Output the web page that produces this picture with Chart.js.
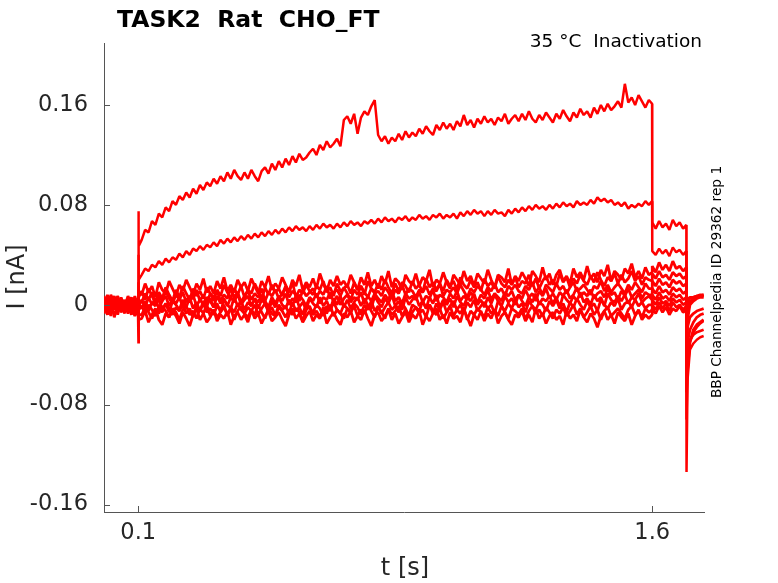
<!DOCTYPE html>
<html lang="en">
<head>
    <meta charset="UTF-8">
    <title>TASK2 Rat CHO_FT</title>
    <script src="https://cdn.jsdelivr.net/npm/chart.js"></script>
    <style>
        body {
            margin: 0;
            padding: 0;
            background: #fff;
        }
        #wrap {
            width: 778px;
            height: 583px;
            position: relative;
        }
    </style>
</head>
<body>
    <div id="wrap">
        <canvas id="traces"></canvas>
    </div>

    <script>
        // sample times [s]
        const timeS = [
            0, 0.01, 0.02, 0.03, 0.04, 0.05, 0.06, 0.07, 0.08, 0.09, 0.0995,
            0.1, 0.102,
            0.11, 0.12, 0.13, 0.14, 0.15, 0.16, 0.17, 0.18, 0.19, 0.20,
            0.21, 0.22, 0.23, 0.24, 0.25, 0.26, 0.27, 0.28, 0.29, 0.30,
            0.31, 0.32, 0.33, 0.34, 0.35, 0.36, 0.37, 0.38, 0.39, 0.40,
            0.41, 0.42, 0.43, 0.44, 0.45, 0.46, 0.47, 0.48, 0.49, 0.50,
            0.51, 0.52, 0.53, 0.54, 0.55, 0.56, 0.57, 0.58, 0.59, 0.60,
            0.61, 0.62, 0.63, 0.64, 0.65, 0.66, 0.67, 0.68, 0.69, 0.70,
            0.71, 0.72, 0.73, 0.74, 0.75, 0.76, 0.77, 0.78, 0.79, 0.80,
            0.81, 0.82, 0.83, 0.84, 0.85, 0.86, 0.87, 0.88, 0.89, 0.90,
            0.91, 0.92, 0.93, 0.94, 0.95, 0.96, 0.97, 0.98, 0.99, 1.00,
            1.01, 1.02, 1.03, 1.04, 1.05, 1.06, 1.07, 1.08, 1.09, 1.10,
            1.11, 1.12, 1.13, 1.14, 1.15, 1.16, 1.17, 1.18, 1.19, 1.20,
            1.21, 1.22, 1.23, 1.24, 1.25, 1.26, 1.27, 1.28, 1.29, 1.30,
            1.31, 1.32, 1.33, 1.34, 1.35, 1.36, 1.37, 1.38, 1.39, 1.40,
            1.41, 1.42, 1.43, 1.44, 1.45, 1.46, 1.47, 1.48, 1.49, 1.50,
            1.51, 1.52, 1.53, 1.54, 1.55, 1.56, 1.57, 1.58, 1.59,
            1.5995,
            1.6, 1.61, 1.62, 1.63, 1.64, 1.65, 1.66, 1.67, 1.68, 1.69, 1.6995,
            1.70, 1.703, 1.71, 1.72, 1.73, 1.74, 1.75
        ];

        // currents [pA], one array per sweep
        const sweepA = [
            4, -5, 6, -3, 7, -6, 2, -4, 5, -2, 1,
            75, 47,
            52, 60, 58, 67, 64, 73, 70, 78, 75, 83,
            80, 87, 84, 90, 86, 93, 89, 96, 92, 98,
            95, 101, 97, 103, 99, 106, 101, 108, 103, 100,
            106, 101, 108, 103, 99, 107, 110, 105, 113, 108,
            115, 110, 117, 112, 119, 114, 121, 116, 118, 122,
            125, 120, 128, 124, 131, 126, 129, 133, 127, 148,
            151, 145, 153, 137, 150, 155, 152, 159, 164, 136,
            131, 135, 129, 134, 131, 137, 132, 139, 134, 138,
            135, 141, 137, 143, 139, 136, 144, 140, 146, 141,
            145, 140, 147, 143, 152, 144, 148, 142, 149, 145,
            151, 146, 149, 144, 150, 147, 153, 145, 149, 152,
            147, 153, 148, 155, 149, 146, 152, 148, 154, 150,
            146, 153, 149, 156, 151, 147, 154, 150, 157, 152,
            155, 150, 158, 153, 160, 155, 161, 156, 159, 163,
            158, 177, 162, 166, 160, 168, 163, 158, 164,
            161,
            66, 61, 67, 62, 65, 60, 68, 63, 66, 61, 64,
            -134, -60, -36, -31, -28, -26, -25
        ];
        const sweepB = [
            -5, 3, -2, 6, -4, 1, -7, 4, -1, 5, 2,
            40, 20,
            24, 29, 27, 32, 30, 35, 32, 37, 34, 38,
            36, 41, 38, 43, 40, 45, 43, 47, 44, 48,
            46, 50, 47, 52, 49, 53, 50, 54, 51, 55,
            52, 56, 53, 57, 54, 58, 55, 59, 56, 60,
            57, 61, 58, 62, 59, 63, 60, 62, 59, 63,
            60, 64, 61, 65, 62, 64, 61, 65, 62, 66,
            63, 67, 64, 66, 63, 67, 65, 68, 65, 69,
            66, 70, 67, 69, 66, 70, 68, 71, 67, 70,
            68, 72, 69, 71, 68, 72, 70, 73, 69, 72,
            70, 73, 69, 74, 71, 75, 72, 76, 73, 75,
            71, 75, 72, 76, 73, 74, 71, 76, 73, 77,
            74, 78, 75, 79, 76, 80, 77, 79, 76, 80,
            77, 81, 78, 82, 79, 81, 78, 83, 80, 82,
            80, 84, 81, 86, 83, 85, 82, 84, 80, 82,
            79, 82, 77, 80, 78, 81, 79, 83, 80,
            83,
            43, 40, 45, 41, 44, 39, 46, 42, 44, 40, 43,
            -92, -48, -30, -22, -18, -15, -13
        ];
        const sweepC1 = [
            6, -1, 8, 2, -4, 5, -2, 7, 0, 4, 3,
            18, 10,
            8, 17, 10, 15, 6, 18, 12, 9, 19, 13,
            7, 16, 11, 20, 14, 8, 17, 12, 21, 10,
            15, 9, 19, 13, 22, 11, 16, 10, 20, 14,
            18, 11, 21, 15, 9, 19, 14, 23, 12, 17,
            13, 22, 16, 10, 20, 15, 24, 12, 18, 14,
            21, 13, 25, 17, 11, 20, 15, 23, 16, 19,
            14, 24, 18, 12, 22, 16, 26, 15, 20, 13,
            23, 17, 27, 14, 21, 18, 12, 24, 19, 16,
            25, 15, 22, 19, 28, 14, 20, 17, 26, 18,
            13, 24, 20, 16, 27, 19, 23, 15, 25, 21,
            17, 28, 20, 14, 24, 22, 18, 29, 16, 23,
            19, 26, 21, 15, 27, 23, 18, 30, 20, 25,
            16, 24, 28, 19, 23, 17, 29, 22, 26, 20,
            31, 21, 25, 18, 28, 23, 32, 19, 27, 24,
            20, 29, 25, 33, 22, 27, 21, 30, 24,
            26,
            31, 26, 34, 28, 32, 27, 35, 29, 31, 27, 30,
            -40, 2, 5, 6, 7, 8, 8
        ];
        const sweepC2 = [
            -3, 5, -6, 4, 1, -5, 3, -2, 6, -4, 0,
            12, 6,
            11, 4, 13, 7, 2, 10, 5, 14, 8, 3,
            12, 6, 15, 9, 4, 13, 7, 11, 5, 14,
            9, 3, 12, 7, 16, 10, 5, 13, 8, 15,
            6, 12, 9, 17, 11, 4, 14, 8, 16, 10,
            13, 7, 15, 10, 18, 6, 12, 9, 16, 11,
            8, 15, 12, 19, 10, 14, 7, 17, 11, 13,
            16, 9, 18, 12, 15, 8, 19, 13, 10, 17,
            12, 20, 14, 9, 17, 11, 18, 15, 10, 19,
            13, 16, 10, 21, 14, 18, 12, 17, 11, 20,
            15, 19, 12, 22, 16, 13, 20, 14, 18, 11,
            21, 15, 18, 13, 23, 17, 14, 20, 16, 22,
            14, 19, 17, 24, 15, 21, 13, 19, 23, 16,
            20, 15, 25, 18, 22, 14, 21, 17, 24, 19,
            16, 23, 18, 26, 20, 15, 22, 19, 25, 17,
            24, 18, 21, 27, 19, 23, 16, 22, 20,
            19,
            25, 21, 27, 22, 24, 20, 26, 23, 25, 21, 23,
            -30, -4, 2, 5, 6, 7, 8
        ];
        const sweepC3 = [
            7, -8, 3, -4, 7, -2, 4, -6, 1, -3, 5,
            8, 3,
            2, 9, 4, 10, 0, 7, 3, 11, 5, 1,
            8, 4, 10, 2, 7, 5, 12, 3, 8, 1,
            9, 6, 11, 3, 8, 5, 13, 6, 10, 2,
            7, 11, 4, 9, 6, 13, 3, 10, 7, 12,
            5, 9, 14, 6, 11, 8, 3, 12, 7, 10,
            13, 6, 11, 8, 15, 5, 10, 12, 7, 14,
            9, 4, 12, 8, 15, 10, 6, 13, 9, 11,
            7, 14, 10, 5, 12, 9, 16, 8, 13, 11,
            6, 12, 10, 15, 8, 13, 11, 17, 7, 12,
            10, 14, 9, 16, 11, 6, 13, 10, 15, 12,
            8, 14, 11, 17, 10, 13, 7, 15, 12, 16,
            11, 9, 15, 12, 18, 10, 14, 8, 16, 13,
            10, 17, 12, 15, 9, 14, 18, 11, 13, 16,
            12, 8, 15, 13, 19, 11, 16, 10, 14, 17,
            13, 9, 16, 12, 18, 14, 10, 17, 13,
            13,
            19, 15, 21, 16, 18, 14, 20, 17, 19, 15, 17,
            -45, -30, -20, -14, -10, -8, -7
        ];
        const sweepC4 = [
            -1, 8, -5, 6, -8, 4, 0, 5, -3, 7, -2,
            4, -2,
            4, -2, 6, 0, 5, -3, 3, 7, -1, 4,
            1, 6, -2, 5, 2, 8, -1, 4, 0, 6,
            3, -2, 7, 1, 5, -1, 6, 2, 9, 0,
            4, 7, -1, 5, 2, 8, 3, -2, 6, 1,
            7, 3, 9, 0, 5, 2, 8, 4, -1, 6,
            3, 9, 1, 6, 4, 10, 2, 7, 0, 5,
            8, 2, 6, 4, 10, 1, 7, 3, 9, 5,
            2, 8, 4, 11, 3, 6, 1, 9, 5, 7,
            4, 10, 2, 7, 5, 12, 3, 8, 6, 2,
            9, 5, 11, 3, 7, 4, 10, 6, 2, 8,
            5, 12, 4, 9, 6, 3, 10, 7, 11, 4,
            8, 5, 12, 6, 9, 3, 11, 7, 13, 5,
            9, 4, 10, 7, 12, 5, 8, 14, 6, 10,
            7, 12, 5, 9, 11, 6, 13, 8, 10, 4,
            11, 7, 13, 6, 9, 12, 5, 10, 8,
            8,
            13, 9, 15, 10, 12, 8, 14, 11, 13, 9, 11,
            -25, 4, 6, 6, 7, 7, 7
        ];
        const sweepC5 = [
            -7, 2, -9, 4, -3, 6, -5, 1, -8, 3, -2,
            -4, 1,
            -3, 3, -5, 2, -1, 5, -4, 1, -6, 3,
            0, -4, 4, -2, 6, -3, 2, -5, 3, -1,
            5, -2, 1, -6, 4, 0, -3, 6, -1, 3,
            -4, 2, -1, 5, -3, 4, 1, -5, 3, -2,
            6, 0, -3, 4, -1, 7, -2, 2, -4, 5,
            1, -2, 6, -1, 3, -4, 5, 0, 7, -2,
            4, -3, 2, 6, -1, 5, 0, -3, 7, 2,
            -2, 5, 1, 8, -1, 3, -4, 6, 0, 4,
            7, -1, 3, -3, 6, 1, 8, -2, 4, 0,
            5, -2, 7, 2, -1, 6, 3, 9, 0, 4,
            -2, 6, 1, 8, 3, -1, 7, 2, 5, 0,
            8, 3, -1, 6, 2, 9, 0, 5, 3, 7,
            1, 6, -2, 8, 4, 1, 7, 3, 10, 2,
            5, 0, 8, 3, 6, -1, 9, 4, 2, 7,
            3, 8, 1, 6, 4, 9, 2, 5, 7,
            4,
            8, 4, 10, 5, 7, 3, 9, 6, 8, 4, 6,
            -70, -52, -30, -20, -16, -14, -12
        ];
        const sweepC6 = [
            4, -6, 1, 7, -5, 2, -3, 5, -1, -4, 0,
            -10, -4,
            -1, -7, 0, -4, -9, -2, -6, 1, -3, -8,
            -2, -5, 0, -7, -3, -10, -1, -5, 1, -6,
            -3, -8, -1, -4, 0, -9, -2, -6, 1, -4,
            -7, -2, -5, 0, -8, -3, 1, -6, -2, -9,
            0, -4, -1, -7, 2, -5, -2, -8, 1, -3,
            -6, 0, -3, -9, -1, -5, 2, -4, -7, 0,
            -3, -6, 1, -2, -8, 0, -4, 3, -5, -1,
            -7, -2, 2, -4, -1, -6, 1, -3, -9, 0,
            -2, -5, 3, -3, 0, -7, 1, -4, 2, -6,
            -1, 3, -4, 0, -6, 2, -2, 4, -5, -1,
            2, -3, 0, -7, 3, -1, -5, 1, -3, 4,
            -2, 1, -6, 3, -1, -4, 2, 0, -5, 3,
            -1, 4, -3, 1, -6, 2, -2, 5, 0, -4,
            3, -2, 1, -5, 4, 0, -3, 2, -1, 5,
            -4, 1, 3, -2, 4, -1, 2, -3, 0,
            0,
            4, 0, 6, 1, 3, -1, 5, 2, 4, 0, 2,
            -50, -40, -28, -24, -22, -21, -20
        ];
        const sweepC7 = [
            -4, 3, -7, 1, 5, -6, 2, -3, 4, -8, -1,
            -18, -8,
            -8, -2, -6, -11, -4, -7, -1, -5, -10, -3,
            -6, -12, -4, -1, -8, -5, -11, -3, -7, 0,
            -9, -4, -10, -6, -2, -8, -3, -12, -5, -1,
            -7, -10, -4, -8, 0, -6, -11, -3, -7, -9,
            -2, -5, -10, -4, -8, -3, -6, -13, -4, -1,
            -8, -5, -10, -2, -7, 0, -9, -4, -7, -11,
            -3, -6, -1, -9, -4, -7, 0, -5, -10, -2,
            -6, -11, -3, -8, -5, -1, -9, -4, -12, -6,
            -2, -7, -4, -10, 0, -5, -8, -3, -11, -6,
            -1, -9, -4, -7, -2, -12, -5, -8, -3, -6,
            -10, -2, -7, -4, -9, -1, -6, -11, -3, -5,
            -8, -3, -12, -5, -1, -7, -4, -9, -2, -6,
            -11, -4, -7, -2, -9, -5, 0, -8, -3, -10,
            -6, -1, -8, -4, -12, -5, -2, -9, -6, -3,
            -7, -11, -4, -1, -8, -5, -10, -3, -6,
            -4,
            0, -4, 2, -3, 1, -5, 2, -2, 0, -4, -1,
            -35, -12, 0, 3, 5, 6, 6
        ];
        const sweepC8 = [
            2, -8, 5, -10, 0, -4, 3, -7, -1, -9, -3,
            -31, -12,
            -11, -5, -14, -8, -3, -12, -16, -7, -10, -4,
            -9, -15, -6, -11, -17, -8, -3, -12, -7, -14,
            -10, -4, -13, -8, -11, -5, -16, -9, -6, -12,
            -8, -14, -4, -11, -7, -15, -9, -5, -13, -10,
            -6, -12, -17, -8, -3, -11, -7, -14, -9, -5,
            -13, -8, -11, -4, -15, -10, -6, -12, -16, -7,
            -10, -5, -14, -9, -12, -4, -11, -17, -8, -6,
            -13, -9, -4, -12, -7, -15, -10, -6, -14, -8,
            -11, -5, -16, -9, -13, -7, -3, -12, -8, -15,
            -6, -11, -9, -14, -4, -10, -17, -8, -12, -5,
            -13, -7, -11, -4, -15, -9, -6, -12, -16, -8,
            -10, -5, -13, -8, -14, -3, -11, -7, -15, -9,
            -6, -12, -9, -16, -5, -11, -8, -13, -4, -10,
            -14, -7, -11, -18, -9, -5, -12, -8, -15, -6,
            -10, -13, -7, -16, -9, -4, -12, -8, -11,
            -8,
            -3, -7, -1, -6, -2, -8, -3, -5, -1, -6, -4,
            -28, -18, -10, -7, -5, -4, -3
        ];

        const sweeps = [sweepC8, sweepC7, sweepC6, sweepC5, sweepC4, sweepC3, sweepC2, sweepC1, sweepB, sweepA];
        const pAperNA = 1000;

        const xTicks = [0.1, 1.6];
        const xTickLabels = ['0.1', '1.6'];
        const yTicks = [-0.16, -0.08, 0, 0.08, 0.16];
        const yTickLabels = ['-0.16', '-0.08', '0', '0.08', '0.16'];

        const titleText = 'TASK2  Rat  CHO_FT';
        const conditionText = '35 \u00B0C  Inactivation';
        const sourceText = 'BBP Channelpedia ID 29362 rep 1';
        const xTitle = 't [s]';
        const yTitle = 'I [nA]';

        const axisColor = '#555';
        const textColor = '#262626';
        const fontName = '"DejaVu Sans", sans-serif';

        Chart.defaults.font.family = fontName;

        // text and inward tick marks, drawn after the traces
        const figureText = {
            id: 'figureText',
            afterDraw(chart) {
                const { ctx, chartArea, scales } = chart;
                ctx.save();

                ctx.strokeStyle = axisColor;
                ctx.lineWidth = 1;
                scales.y.ticks.forEach(t => {
                    const py = Math.round(scales.y.getPixelForValue(t.value)) + 0.5;
                    ctx.beginPath();
                    ctx.moveTo(chartArea.left, py);
                    ctx.lineTo(chartArea.left + 6, py);
                    ctx.stroke();
                });
                scales.x.ticks.forEach(t => {
                    const px = Math.round(scales.x.getPixelForValue(t.value)) + 0.5;
                    ctx.beginPath();
                    ctx.moveTo(px, chartArea.bottom);
                    ctx.lineTo(px, chartArea.bottom - 6);
                    ctx.stroke();
                });

                ctx.fillStyle = '#000';
                ctx.textBaseline = 'alphabetic';
                ctx.textAlign = 'left';
                ctx.font = 'bold 23.5px ' + fontName;
                ctx.fillText(titleText, 117, 27);

                ctx.textAlign = 'right';
                ctx.font = '18.5px ' + fontName;
                ctx.fillText(conditionText, 702, 47);

                ctx.fillStyle = textColor;
                ctx.textAlign = 'center';
                ctx.font = '24px ' + fontName;
                ctx.fillText(xTitle, 405, 575);

                ctx.save();
                ctx.translate(24, 277);
                ctx.rotate(-Math.PI / 2);
                ctx.fillText(yTitle, 0, 0);
                ctx.restore();

                ctx.fillStyle = '#000';
                ctx.save();
                ctx.translate(720.5, 282);
                ctx.rotate(-Math.PI / 2);
                ctx.font = '13.7px ' + fontName;
                ctx.fillText(sourceText, 0, 0);
                ctx.restore();

                ctx.restore();
            }
        };

        // noisy sweeps read as bands a few pixels thick
        const datasets = sweeps.map((sweep, i) => ({
            data: timeS.map((t, j) => ({ x: t, y: sweep[j] / pAperNA })),
            borderColor: '#ff0000',
            borderWidth: i >= 8 ? 2.5 : 2.8,
            borderJoinStyle: 'bevel',
            pointRadius: 0,
            tension: 0,
            fill: false
        }));

        new Chart(document.getElementById('traces'), {
            type: 'line',
            data: { datasets: datasets },
            options: {
                responsive: true,
                maintainAspectRatio: false,
                animation: false,
                layout: {
                    padding: { left: 0, top: 43, right: 74, bottom: 0 }
                },
                plugins: {
                    legend: { display: false },
                    tooltip: { enabled: false }
                },
                scales: {
                    x: {
                        type: 'linear',
                        min: 0,
                        max: 1.751,
                        afterFit: scale => { scale.height = 71; },
                        afterBuildTicks: scale => {
                            scale.ticks = xTicks.map(v => ({ value: v }));
                        },
                        ticks: {
                            color: textColor,
                            font: { size: 22.5 },
                            padding: 8,
                            maxRotation: 0,
                            autoSkip: false,
                            callback: (value) => xTickLabels[xTicks.indexOf(value)]
                        },
                        grid: { display: true, drawOnChartArea: false, drawTicks: false },
                        border: { display: true, color: axisColor, width: 1 }
                    },
                    y: {
                        type: 'linear',
                        min: -0.166,
                        max: 0.2097,
                        afterFit: scale => { scale.width = 104; },
                        afterBuildTicks: scale => {
                            scale.ticks = yTicks.map(v => ({ value: v }));
                        },
                        ticks: {
                            color: textColor,
                            font: { size: 22.5 },
                            padding: 16,
                            autoSkip: false,
                            callback: (value) => yTickLabels[yTicks.indexOf(value)]
                        },
                        grid: { display: true, drawOnChartArea: false, drawTicks: false },
                        border: { display: true, color: axisColor, width: 1 }
                    }
                }
            },
            plugins: [figureText]
        });
    </script>
</body>
</html>
